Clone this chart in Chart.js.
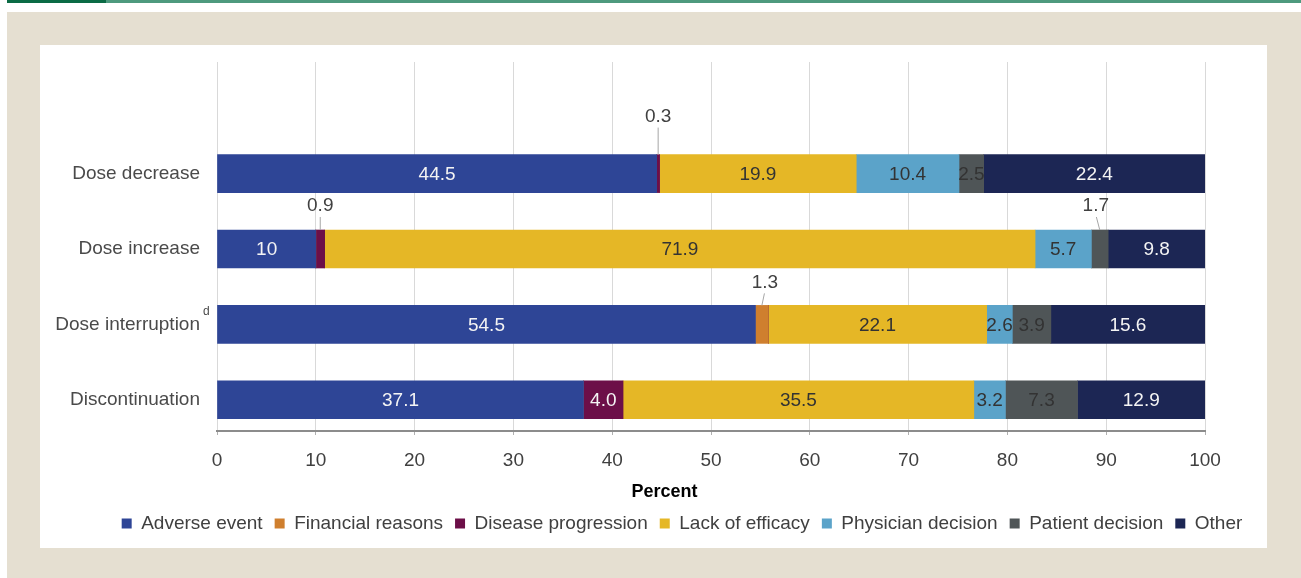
<!DOCTYPE html>
<html>
<head>
<meta charset="utf-8">
<script src="https://cdn.jsdelivr.net/npm/chart.js@4"></script>
<style>
  html, body { margin: 0; padding: 0; width: 1301px; height: 578px; overflow: hidden; background: #ffffff; }
  #stripLight { position: absolute; left: 7px; top: 0; width: 1294px; height: 3px; background: #4e9a7e; }
  #stripDark { position: absolute; left: 7px; top: 0; width: 99px; height: 3px; background: #0b6b45; }
  #beige { position: absolute; left: 7px; top: 12px; width: 1294px; height: 566px; background: #e5dfd1; }
  #card { position: absolute; left: 40px; top: 45px; width: 1227px; height: 503px; background: #ffffff; }
  #chartCanvas { position: absolute; left: 40px; top: 45px; }
</style>
</head>
<body>
<div id="stripLight"></div>
<div id="stripDark"></div>
<div id="beige"></div>
<div id="card"></div>
<canvas id="chartCanvas" width="1270" height="503"></canvas>
<script>
// ---- Data ----
const categories = ['Dose decrease', 'Dose increase', 'Dose interruption', 'Discontinuation'];
const categoryNotes = ['', '', 'd', ''];
const seriesNames = ['Adverse event', 'Financial reasons', 'Disease progression', 'Lack of efficacy', 'Physician decision', 'Patient decision', 'Other'];
const adverseEvent       = [44.5, 10,   54.5, 37.1];
const financialReasons   = [0,    0,    1.3,  0];
const diseaseProgression = [0.3,  0.9,  0,    4.0];
const lackOfEfficacy     = [19.9, 71.9, 22.1, 35.5];
const physicianDecision  = [10.4, 5.7,  2.6,  3.2];
const patientDecision    = [2.5,  1.7,  3.9,  7.3];
const otherReason        = [22.4, 9.8,  15.6, 12.9];
const xTickValues = [0, 10, 20, 30, 40, 50, 60, 70, 80, 90, 100];
const axisTitle = 'Percent';

// ---- Styles ----
const seriesValues = [adverseEvent, financialReasons, diseaseProgression, lackOfEfficacy, physicianDecision, patientDecision, otherReason];
const seriesColors = ['#2e4596', '#cf7f2e', '#6c0f48', '#e5b726', '#5ba3c9', '#4f5557', '#1c2654'];
const labelColors  = ['#f4f4f4', '#333333', '#f4f4f4', '#333333', '#333333', '#333333', '#f4f4f4'];
const FONT_FAMILY = '"Liberation Sans", Arial, Helvetica, sans-serif';
const FONT_SIZE = 19;
// placement of callout labels for thin segments (series index, category index) -> offset from segment top-centre
const calloutPlacement = {
  '2-0': { dx: 0,  dy: -38 },
  '2-1': { dx: 0,  dy: -24 },
  '5-1': { dx: -4, dy: -24 },
  '1-2': { dx: 3,  dy: -23 }
};

function formatValue(v) {
  return (Number.isInteger(v) && v >= 10) ? String(v) : v.toFixed(1);
}

const datasets = seriesNames.map((name, s) => ({
  label: name,
  data: seriesValues[s].map((v, i) => ({ x: v, y: i })),
  backgroundColor: seriesColors[s],
  borderWidth: 0,
  barThickness: 38,
  labelColor: labelColors[s]
}));

const valueLabelPlugin = {
  id: 'valueLabels',
  afterDatasetsDraw(chart) {
    const ctx = chart.ctx;
    ctx.save();
    ctx.font = FONT_SIZE + 'px ' + FONT_FAMILY;
    ctx.textAlign = 'center';
    ctx.textBaseline = 'middle';
    chart.data.datasets.forEach((ds, di) => {
      const meta = chart.getDatasetMeta(di);
      meta.data.forEach((bar, i) => {
        const v = ds.data[i].x;
        if (!v) return;
        const p = bar.getProps(['x', 'y', 'base', 'height'], true);
        const cx = (p.x + p.base) / 2;
        const txt = formatValue(v);
        if (v >= 2) {
          ctx.fillStyle = ds.labelColor;
          ctx.fillText(txt, cx, p.y + 1);
        } else {
          const place = calloutPlacement[di + '-' + i] || { dx: 0, dy: -24 };
          const top = p.y - p.height / 2;
          const lx = cx + place.dx;
          const ly = top + place.dy;
          ctx.strokeStyle = '#a6a6a6';
          ctx.lineWidth = 1;
          ctx.beginPath();
          ctx.moveTo(cx + place.dx * 0.85, ly + 11);
          ctx.lineTo(cx, top);
          ctx.stroke();
          ctx.fillStyle = '#404040';
          ctx.fillText(txt, lx, ly);
        }
      });
    });
    ctx.restore();
  }
};

const notePlugin = {
  id: 'categoryNotes',
  afterDraw(chart) {
    const ctx = chart.ctx;
    const ys = chart.scales.y;
    ctx.save();
    ctx.fillStyle = '#4a4a4a';
    ctx.textAlign = 'left';
    ctx.textBaseline = 'middle';
    categoryNotes.forEach((note, i) => {
      if (!note) return;
      const py = ys.getPixelForValue(i);
      ctx.font = '12px ' + FONT_FAMILY;
      ctx.fillText(note, ys.right - 17 + 3, py - 13);
    });
    ctx.restore();
  }
};

function noVerticalPadding(s) { s.paddingTop = 0; s.paddingBottom = 0; }

new Chart(document.getElementById('chartCanvas'), {
  type: 'bar',
  data: { labels: categories, datasets },
  options: {
    indexAxis: 'y',
    responsive: false,
    animation: false,
    devicePixelRatio: 1,
    layout: { padding: { top: 17, right: 0, bottom: 5, left: 14 } },
    scales: {
      x: {
        type: 'linear',
        stacked: true,
        min: 0,
        max: 100,
        afterBuildTicks: (s) => { s.ticks = xTickValues.map(v => ({ value: v })); },
        afterFit: (s) => { s.height = 52; },
        grid: { color: '#d9d9d9', lineWidth: 1, tickLength: 4, tickColor: '#b0b0b0' },
        border: { display: true, color: '#8c8c8c', width: 2 },
        ticks: { padding: 14, color: '#404040', font: { size: FONT_SIZE, family: FONT_FAMILY } }
      },
      y: {
        type: 'linear',
        stacked: true,
        reverse: true,
        offset: false,
        min: -1.48,
        max: 3.414,
        grid: { display: false, drawTicks: false },
        border: { display: false },
        afterBuildTicks: (s) => { s.ticks = categories.map((c, i) => ({ value: i })); },
        afterFit: (s) => { s.width = 163; noVerticalPadding(s); },
        ticks: {
          padding: 17,
          color: '#4a4a4a',
          font: { size: FONT_SIZE, family: FONT_FAMILY },
          callback: (v) => categories[v]
        }
      },
      yRight: {
        type: 'linear',
        position: 'right',
        display: true,
        grid: { display: false, drawTicks: false },
        border: { display: false },
        ticks: { display: false },
        afterFit: (s) => { s.width = 105; noVerticalPadding(s); }
      }
    },
    plugins: {
      tooltip: { enabled: false },
      title: {
        display: true,
        text: axisTitle + '       ',
        position: 'bottom',
        weight: 500,
        color: '#000000',
        font: { size: 18, weight: 'bold', family: FONT_FAMILY, lineHeight: 1 },
        padding: { top: 0, bottom: 1 }
      },
      legend: {
        position: 'bottom',
        labels: {
          boxWidth: 10,
          boxHeight: 10,
          padding: 12,
          color: '#404040',
          font: { size: FONT_SIZE, family: FONT_FAMILY }
        }
      }
    }
  },
  plugins: [valueLabelPlugin, notePlugin]
});
</script>
</body>
</html>
